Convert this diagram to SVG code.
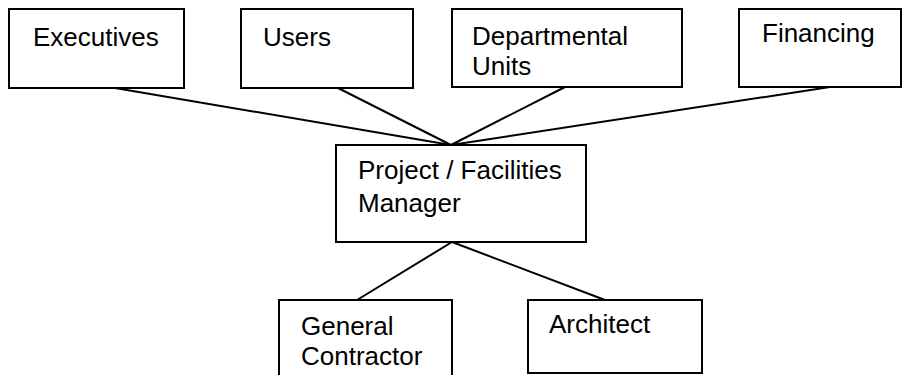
<svg xmlns="http://www.w3.org/2000/svg" width="903" height="375" viewBox="0 0 903 375">
  <style>
    .box { fill: #ffffff; stroke: #000000; stroke-width: 2; }
    .link { stroke: #000000; stroke-width: 2; fill: none; }
    .label { font-family: "Liberation Sans", Arial, sans-serif; font-size: 26px; fill: #000000; }
  </style>
  <rect width="903" height="375" fill="#ffffff"/>

  <!-- connectors -->
  <g id="connectors">
    <line class="link" x1="115" y1="88" x2="451" y2="145"/>
    <line class="link" x1="338" y1="88" x2="451" y2="145"/>
    <line class="link" x1="565" y1="87" x2="451" y2="145"/>
    <line class="link" x1="830" y1="87" x2="451" y2="145"/>
    <line class="link" x1="452" y1="242" x2="357" y2="300"/>
    <line class="link" x1="452" y1="242" x2="605" y2="300"/>
  </g>

  <g id="executives">
    <rect class="box" x="9" y="9" width="175" height="79"/>
    <text class="label" x="33" y="46">Executives</text>
  </g>
  <g id="users">
    <rect class="box" x="241" y="9" width="172" height="79"/>
    <text class="label" x="263" y="46">Users</text>
  </g>
  <g id="departmental-units">
    <rect class="box" x="452" y="9" width="230" height="78"/>
    <text class="label" x="472" y="45">Departmental</text>
    <text class="label" x="472" y="75">Units</text>
  </g>
  <g id="financing">
    <rect class="box" x="739" y="9" width="162" height="78"/>
    <text class="label" x="762" y="42">Financing</text>
  </g>
  <g id="project-manager">
    <rect class="box" x="336" y="145" width="250" height="97"/>
    <text class="label" x="358" y="179">Project / Facilities</text>
    <text class="label" x="358" y="212">Manager</text>
  </g>
  <g id="general-contractor">
    <rect class="box" x="279" y="300" width="173" height="80"/>
    <text class="label" x="301" y="335">General</text>
    <text class="label" x="301" y="365">Contractor</text>
  </g>
  <g id="architect">
    <rect class="box" x="528" y="300" width="174" height="73"/>
    <text class="label" x="549" y="333">Architect</text>
  </g>
</svg>
